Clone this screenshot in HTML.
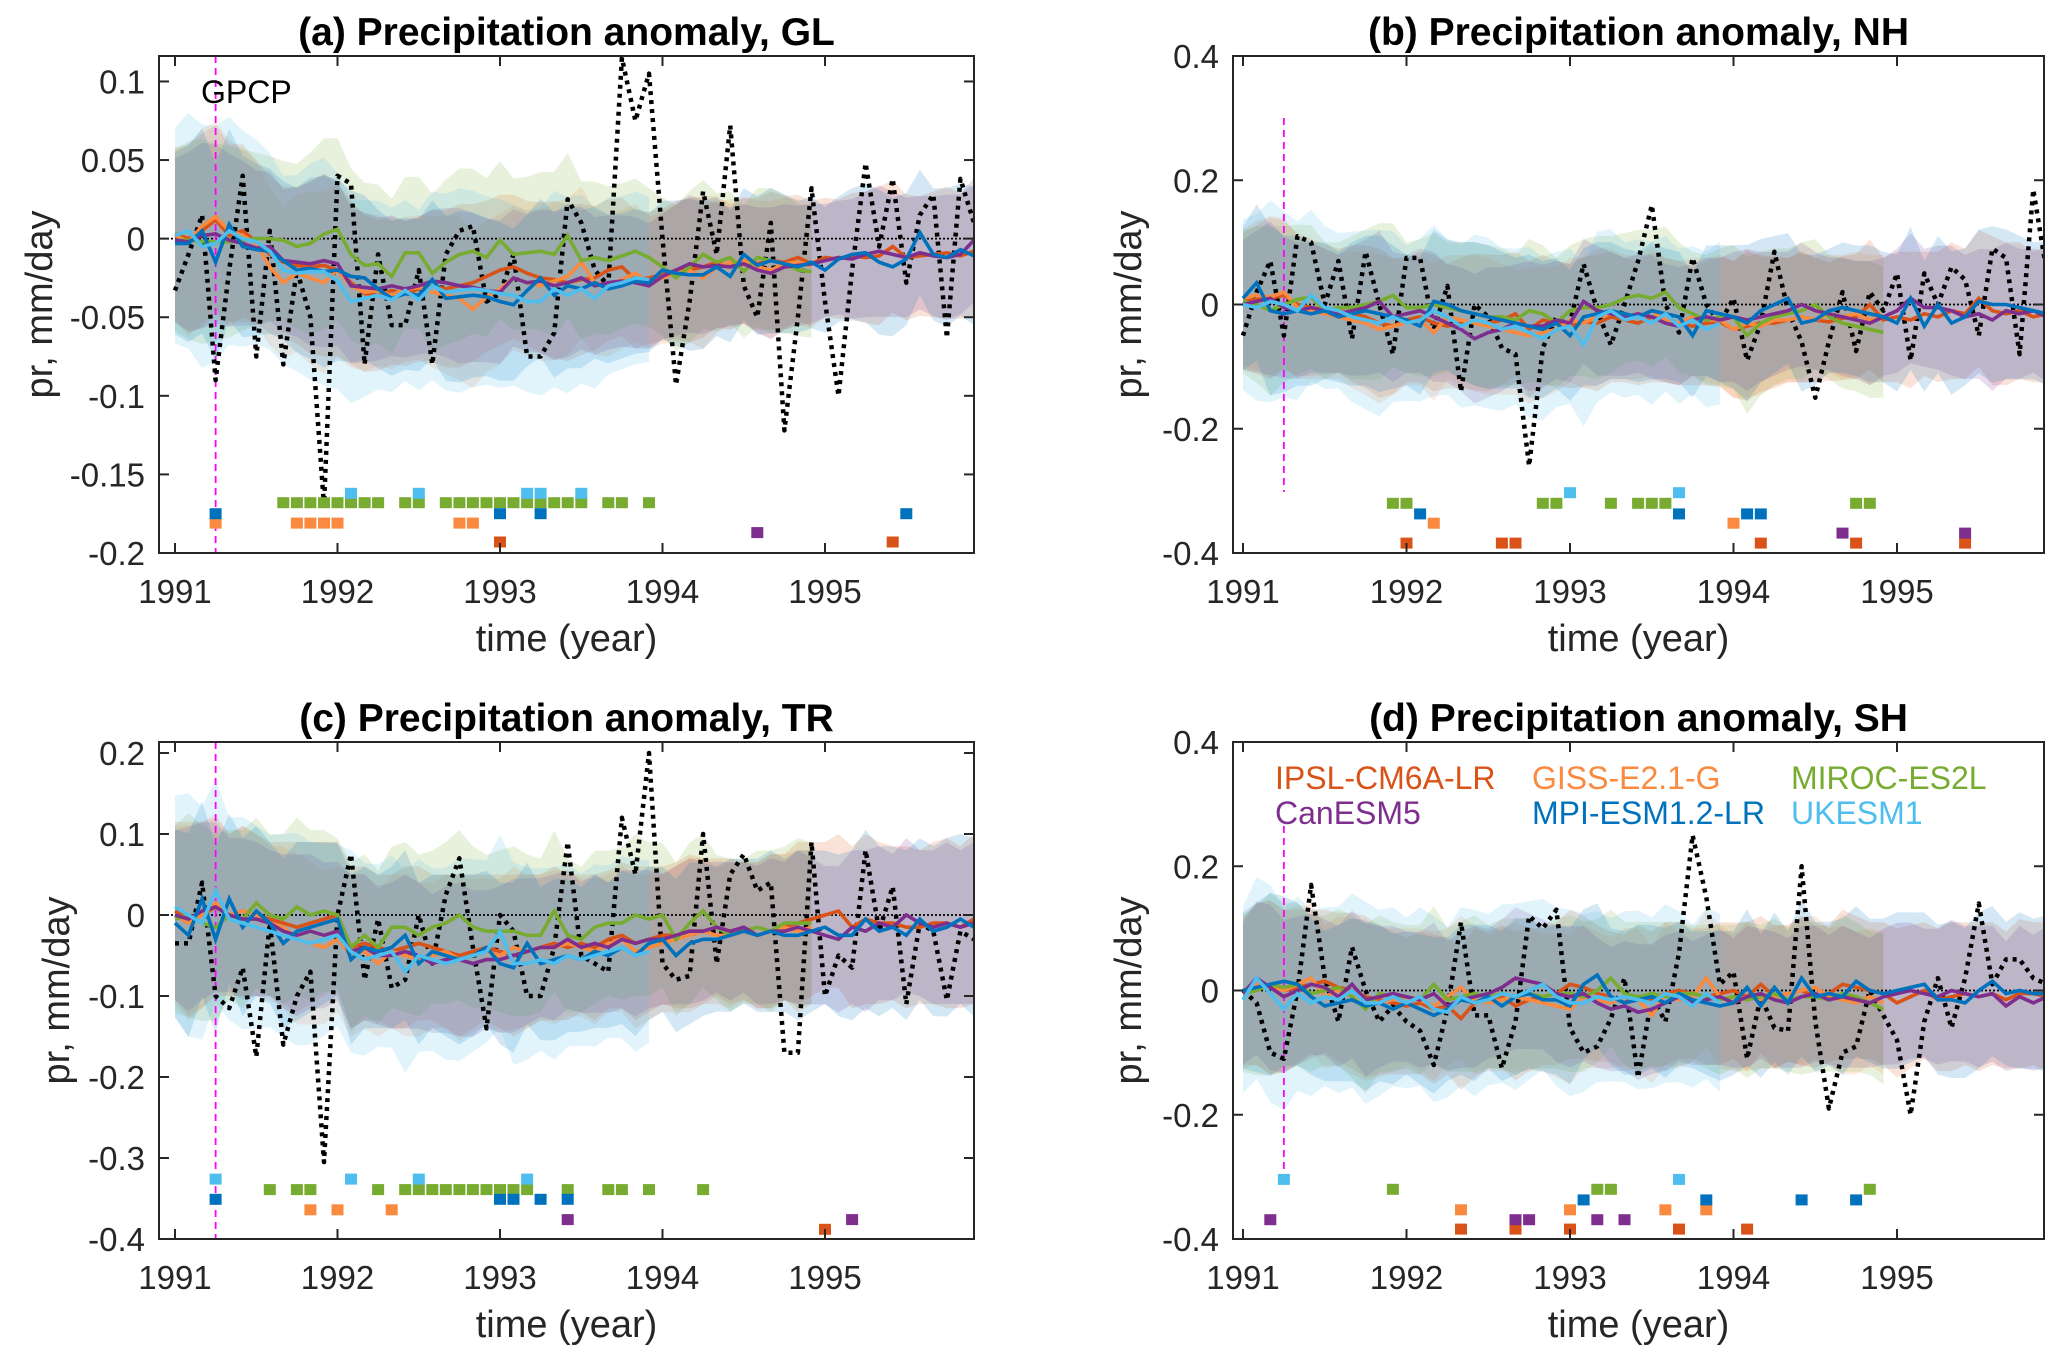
<!DOCTYPE html>
<html><head><meta charset="utf-8"><style>
html,body{margin:0;padding:0;background:#fff;}
svg{display:block;font-family:"Liberation Sans",Arial,sans-serif;}
</style></head><body>
<svg id="fig" width="2067" height="1364" viewBox="0 0 2067 1364" xmlns="http://www.w3.org/2000/svg"></svg>
<script>
// ---------- data (values in 1e-3 mm/day, monthly from Jan 1991) ----------
const xTickYears=[1991,1992,1993,1994,1995];
const modelNames=["IPSL-CM6A-LR","GISS-E2.1-G","MIROC-ES2L","CanESM5","MPI-ESM1.2-LR","UKESM1"];
const bandFactor=[1.0,1.0,1.05,0.95,1.05,1.25];
// GL
const glGPCP=[-33,-10,15,-90,-20,40,-75,5,-80,-20,-50,-170,40,35,-80,-10,-55,-55,-20,-80,-10,5,8,-40,-35,-10,-75,-75,-60,25,10,-20,-30,115,75,105,0,-93,-40,30,-10,72,-30,-50,10,-122,-50,32,-40,-100,-20,48,-5,38,-28,15,28,-63,38,10];
const glIPSL=[3,0,5,12,2,5,-2,-10,-15,-17,-18,-17,-20,-28,-35,-36,-33,-35,-32,-30,-32,-30,-28,-24,-20,-18,-22,-25,-26,-28,-26,-25,-20,-18,-26,-25,-23,-20,-20,-18,-15,-18,-14,-16,-14,-15,-12,-16,-12,-13,-11,-12,-11,-5,-12,-11,-10,-9,-11,-8];
const glGISS=[2,-2,8,14,5,2,-3,-18,-28,-22,-25,-28,-20,-30,-34,-33,-36,-32,-31,-34,-36,-38,-45,-37,-32,-25,-28,-30,-27,-24,-15,-28,-30,-26,-22,-28,-25,-22,-20,-25,-18,-15,-14,-18,-20,-16,-15,-17];
const glMIROC=[-1,-1,-2,-2,-2,-1,0,0,-1,-5,-3,3,6,-10,-17,-16,-24,-9,-9,-22,-15,-10,-8,-12,-1,-10,-9,-8,-10,2,-14,-12,-14,-11,-8,-12,-18,-25,-18,-10,-15,-12,-21,-12,-14,-16,-20,-21];
const glCanESM=[-1,-2,2,3,-1,-3,-6,-5,-14,-15,-16,-14,-16,-30,-31,-32,-30,-32,-30,-27,-28,-30,-31,-33,-34,-25,-28,-27,-30,-28,-25,-30,-28,-27,-28,-30,-24,-20,-16,-18,-17,-18,-16,-20,-22,-18,-17,-16,-14,-12,-13,-10,-8,-10,-12,-9,-11,-12,-10,-1];
const glMPI=[-3,-3,5,-15,9,-5,-7,-8,-14,-20,-19,-21,-20,-24,-25,-32,-38,-35,-36,-26,-38,-37,-36,-37,-40,-42,-33,-25,-36,-30,-32,-28,-32,-30,-27,-28,-20,-22,-23,-23,-18,-24,-10,-17,-14,-16,-18,-15,-20,-13,-10,-9,-15,-18,-13,4,-10,-12,-7,-11];
const glUKESM=[2,5,-5,-3,5,0,-2,-8,-20,-22,-21,-21,-27,-40,-38,-36,-39,-33,-39,-30,-34,-33,-32,-33,-35,-36,-40,-40,-32,-36,-32,-38,-30,-28,-25,-26];
const glSpread=[55,60,62,60,58,55,52,50,48,50,55,58,55,52,50,48,47,46,46,48,50,52,50,48,48,46,46,48,50,50,48,46,45,44,44,42,42,44,46,45,42,40,40,42,44,42,40,40,38,38,40,42,44,42,40,38,40,42,40,42];
// NH
const nhGPCP=[-50,20,70,-50,110,100,0,70,-55,85,0,-80,75,75,-40,30,-140,0,-20,-70,-80,-260,-70,-20,-30,65,-10,-65,0,70,160,0,-45,75,0,-30,10,-90,-30,85,-10,-60,-150,-60,20,-75,20,-10,50,-90,50,0,60,40,-50,90,75,-80,185,50];
const nhIPSL=[5,8,10,15,0,-5,-8,-10,-15,-20,-30,-35,-25,-20,-30,-35,-30,-28,-30,-25,-15,-40,-25,-30,-35,-28,-30,-20,-25,-30,-20,-25,-30,-35,-30,-28,-40,-35,-30,-30,-25,-20,-25,-28,-22,-20,0,-25,-20,-25,-15,-20,-10,-15,10,-10,-15,-10,-20,-15];
const nhGISS=[10,15,12,20,-5,-10,-15,-20,-25,-30,-40,-35,-30,-25,-45,-20,-25,-30,-35,-40,-45,-50,-45,-40,-25,-30,-20,-15,-20,-20,-10,-25,-30,-20,-25,-25,-40,-30,-35,-25,-25,-20,-25,-15,-20,-15,-25,-20];
const nhMIROC=[5,0,-10,0,8,12,-10,-5,-5,0,5,15,-5,-5,0,-5,-10,-15,-20,-20,-25,-10,-15,-30,-10,-5,-5,0,10,15,10,20,-5,-15,-25,-20,-20,-50,-30,-20,-15,-10,0,-20,-30,-35,-40,-45];
const nhCanESM=[0,5,10,-5,-10,-5,-10,-15,-10,-5,5,-20,-15,-10,-20,-30,-40,-55,-45,-40,-30,-35,-35,-25,-30,5,-10,-15,-20,-15,-20,-30,-35,-25,-20,-25,-20,-25,-20,-15,-10,0,-10,-15,-20,-25,-30,-20,-10,10,-5,-5,-10,-20,-15,-25,-10,-15,-10,-20];
const nhMPI=[10,35,-10,-15,-10,-15,-10,-20,-15,-10,-15,-20,-25,-35,5,0,-10,-15,-20,-25,-30,-35,-40,-30,-50,-20,-15,-10,-15,-20,-10,-15,-20,-50,-10,-15,-20,-30,-10,0,10,-30,-25,-10,-5,-10,-15,-20,-30,10,-35,0,-30,-20,5,0,0,-5,-10,-15];
const nhUKESM=[0,-5,5,0,-10,15,-5,-10,-20,-25,-30,-20,-30,-25,-10,-20,-35,-25,-30,-40,-35,-45,-55,-40,-35,-65,-20,-10,-25,-20,-30,-15,-35,-25,-40,-30];
const nhSpread=[110,120,130,120,115,110,105,100,110,115,120,110,100,105,110,100,105,110,110,105,100,110,105,100,100,105,110,105,100,100,105,100,100,95,100,105,110,120,110,105,100,105,100,95,100,100,105,100,105,110,100,105,110,105,110,120,115,110,105,110];
// TR
const trGPCP=[-35,-35,40,-100,-115,-65,-175,-10,-160,-100,-70,-305,0,75,-80,-5,-90,-80,0,-60,25,70,-40,-140,0,-20,-100,-100,-40,90,-50,-60,-70,120,50,200,-60,-80,-75,100,-60,50,75,30,40,-170,-170,90,-100,-50,-65,80,-20,35,-110,-10,-20,-105,-20,-30];
const trIPSL=[5,-5,0,10,0,5,0,-5,-10,-15,-10,-5,0,-40,-35,-40,-45,-40,-35,-40,-45,-50,-45,-40,-45,-50,-45,-40,-35,-40,-35,-40,-30,-25,-35,-30,-25,-25,-20,-20,-15,-20,-20,-25,-20,-15,-10,-5,0,5,-15,-5,-10,-10,-15,-15,-10,-10,-15,-5];
const trGISS=[0,-10,0,15,0,5,0,-10,-15,-30,-35,-40,-30,-50,-45,-60,-45,-50,-55,-50,-45,-55,-50,-45,-50,-40,-45,-40,-40,-35,-40,-45,-35,-30,-45,-40,-35,-30,-25,-20,-25,-25,-20,-25,-20,-15,-20,-15];
const trMIROC=[-5,0,-10,-15,0,-5,15,0,-5,10,0,5,0,-40,-25,-40,-15,-15,-25,-15,-10,0,-15,-20,-20,-20,-25,-25,5,-25,-30,-15,-10,-10,0,-5,0,-30,-10,5,-15,-25,-20,-15,-20,-10,-10,-10];
const trCanESM=[0,-5,5,10,0,-5,-5,-10,-20,-25,-20,-25,-20,-45,-40,-50,-50,-45,-50,-60,-55,-55,-60,-55,-55,-50,-45,-40,-40,-30,-40,-35,-40,-30,-35,-30,-30,-25,-20,-20,-15,-20,-15,-25,-20,-20,-15,-20,-25,-30,-15,-20,-10,-15,0,-10,-15,-10,-15,-10];
const trMPI=[-10,-25,20,-30,20,-15,5,-10,-35,-20,-15,-10,-5,-55,-40,-45,-40,-25,-60,-45,-50,-55,-50,-40,-60,-65,-35,-60,-55,-50,-55,-45,-50,-40,-50,-35,-30,-50,-35,-30,-30,-25,-20,-25,-20,-25,-25,-20,-15,-25,-25,-5,-20,-15,-25,-5,-20,-15,-5,-15];
const trUKESM=[10,0,-10,30,-5,-10,-15,-20,-25,-30,-35,-30,-25,-45,-55,-50,-45,-70,-50,-55,-60,-55,-50,-45,-20,-60,-60,-55,-60,-50,-55,-50,-45,-40,-50,-45];
const trSpread=[110,120,115,110,100,105,100,95,100,105,100,95,90,100,95,90,95,100,95,90,95,100,95,90,95,100,95,90,95,90,85,90,85,90,95,90,85,90,95,90,85,90,85,90,95,90,100,95,90,95,100,105,100,95,100,95,100,105,100,105];
// SH
const shGPCP=[0,-20,-100,-110,0,170,20,-50,70,0,-50,-25,-50,-65,-120,-30,110,-40,-40,-125,-50,120,100,130,-60,-100,-90,-45,20,-140,-10,-50,60,250,150,10,30,-110,-10,-60,-65,200,-50,-190,-100,-90,0,-40,-80,-200,-50,20,-60,20,140,10,50,50,20,10];
const shIPSL=[0,10,5,0,5,10,15,5,0,-10,-15,-20,-25,-20,-30,-25,-45,-20,-15,-10,-25,-15,-10,-5,10,5,-5,-10,-20,-10,-15,-5,0,-5,-10,-5,0,-10,10,-10,-5,0,-10,-5,10,5,0,-5,-20,-10,0,-15,-10,-5,-10,-5,-15,-5,-5,-10];
const shGISS=[-5,10,5,0,10,20,-10,0,-10,-15,-20,-15,-10,-15,-25,-10,5,-15,-20,-15,-10,-15,-20,-25,-30,-10,-15,-20,-10,-15,-40,-5,-15,-10,20,-10,-20,-10,-15,-10,-5,0,5,-10,-15,-20,-10,-20];
const shMIROC=[-5,0,10,5,10,-5,0,5,-10,-30,-5,-10,-10,-15,10,-15,-10,-5,-10,-5,-10,-5,-10,-5,-5,-10,0,20,-5,-10,-5,-10,-5,-5,-10,-15,-10,-15,-10,-5,-15,-10,-10,-15,-5,-10,-20,-30];
const shCanESM=[-5,20,5,-10,0,10,5,-10,10,-15,-10,-5,-10,-15,-5,-25,-15,-10,-5,5,20,15,10,-5,-10,-5,-20,-30,-25,-35,-30,-20,-10,-20,-15,-10,-20,-10,-5,-15,-20,-10,-5,-15,-10,-15,-20,-10,-5,0,-5,-10,0,-5,-10,-5,-25,-10,-20,-10];
const shMPI=[0,5,10,15,10,-10,-25,-20,-15,-25,-20,-30,-20,-30,-40,-30,-15,-20,-10,-25,-10,-5,-15,-15,-25,10,25,-10,-20,-15,-10,-20,-5,-15,-20,-25,-20,5,-25,5,-20,20,-10,-5,-10,15,0,-5,0,5,10,-15,-15,-20,0,15,-5,0,-5,-5];
const shUKESM=[-15,20,-5,-30,-5,-20,-10,-15,0,-20,-20,-10,-20,-10,-30,-35,-10,-20,-15,-5,-10,0,10,-10,-20,-20,-10,-15,-10,-15,-20,-5,-10,-25,-5,-20];
const shSpread=[120,130,140,130,125,120,115,120,125,130,120,115,110,115,120,110,115,120,110,115,120,115,110,115,120,115,110,105,110,115,110,115,110,105,110,115,110,120,110,115,110,120,115,110,120,115,110,115,120,115,110,115,120,115,120,115,110,120,115,120];
// significance markers (month indices)
const glMarkIPSL=[24,53], glMarkGISS=[3,9,10,11,12,21,22], glMarkMIROC=[8,9,10,11,12,13,14,15,17,18,20,21,22,23,24,25,26,27,28,29,30,32,33,35], glMarkCanESM=[43], glMarkMPI=[3,24,27,54], glMarkUKESM=[13,18,26,27,30];
const nhMarkIPSL=[12,19,20,38,45,53], nhMarkGISS=[14,36], nhMarkMIROC=[11,12,22,23,27,29,30,31,45,46], nhMarkCanESM=[44,53], nhMarkMPI=[13,32,37,38], nhMarkUKESM=[24,32];
const trMarkIPSL=[48], trMarkGISS=[10,12,16], trMarkMIROC=[7,9,10,15,17,18,19,20,21,22,23,24,25,26,29,32,33,35,39], trMarkCanESM=[29,50], trMarkMPI=[3,24,25,27,29], trMarkUKESM=[3,13,18,26];
const shMarkIPSL=[16,20,24,32,37], shMarkGISS=[16,24,31,34], shMarkMIROC=[11,26,27,46], shMarkCanESM=[2,20,21,26,28], shMarkMPI=[25,34,41,45], shMarkUKESM=[3,32];
// marker row levels (mm/day) for IPSL,GISS,MIROC,CanESM,MPI,UKESM
const glMarkLevel=[-0.193,-0.181,-0.168,-0.187,-0.175,-0.162];
const nhMarkLevel=[-0.384,-0.352,-0.320,-0.368,-0.337,-0.303];
const trMarkLevel=[-0.388,-0.364,-0.339,-0.376,-0.351,-0.326];
const shMarkLevel=[-0.384,-0.353,-0.320,-0.369,-0.337,-0.304];
const glYTicks=[0.1,0.05,0,-0.05,-0.1,-0.15,-0.2], glYLabels=["0.1","0.05","0","-0.05","-0.1","-0.15","-0.2"];
const nhYTicks=[0.4,0.2,0,-0.2,-0.4], nhYLabels=["0.4","0.2","0","-0.2","-0.4"];
const trYTicks=[0.2,0.1,0,-0.1,-0.2,-0.3,-0.4], trYLabels=["0.2","0.1","0","-0.1","-0.2","-0.3","-0.4"];
const shYTicks=[0.4,0.2,0,-0.2,-0.4], shYLabels=["0.4","0.2","0","-0.2","-0.4"];
const eruptionMonth=3;

// ---------- drawing ----------
const colors=["#D95319","#F98A3F","#77AC30","#7E2F8E","#0072BD","#4DBEEE"];
const NS="http://www.w3.org/2000/svg";
const svg=document.getElementById('fig');
function mk(tag,attrs,parent){const e=document.createElementNS(NS,tag);for(const k in attrs)e.setAttribute(k,attrs[k]);(parent||svg).appendChild(e);return e;}

const panels=[
 {id:'gl',title:'(a) Precipitation anomaly, GL',L:159,R:974,T:56,B:553,ymin:-0.2,ymax:0.1162,x0:175,x1:825,
  gpcp:glGPCP,models:[glIPSL,glGISS,glMIROC,glCanESM,glMPI,glUKESM],spread:glSpread,
  marks:[glMarkIPSL,glMarkGISS,glMarkMIROC,glMarkCanESM,glMarkMPI,glMarkUKESM],level:glMarkLevel,
  yt:glYTicks,yl:glYLabels,ylabX:52,magT:56,magB:553,gpcpLabel:true},
 {id:'nh',title:'(b) Precipitation anomaly, NH',L:1233,R:2044,T:56,B:553,ymin:-0.4,ymax:0.4,x0:1243,x1:1897,
  gpcp:nhGPCP,models:[nhIPSL,nhGISS,nhMIROC,nhCanESM,nhMPI,nhUKESM],spread:nhSpread,
  marks:[nhMarkIPSL,nhMarkGISS,nhMarkMIROC,nhMarkCanESM,nhMarkMPI,nhMarkUKESM],level:nhMarkLevel,
  yt:nhYTicks,yl:nhYLabels,ylabX:1141,magT:118,magB:492},
 {id:'tr',title:'(c) Precipitation anomaly, TR',L:159,R:974,T:742,B:1239,ymin:-0.4,ymax:0.2136,x0:175,x1:825,
  gpcp:trGPCP,models:[trIPSL,trGISS,trMIROC,trCanESM,trMPI,trUKESM],spread:trSpread,
  marks:[trMarkIPSL,trMarkGISS,trMarkMIROC,trMarkCanESM,trMarkMPI,trMarkUKESM],level:trMarkLevel,
  yt:trYTicks,yl:trYLabels,ylabX:69,magT:742,magB:1239},
 {id:'sh',title:'(d) Precipitation anomaly, SH',L:1233,R:2044,T:742,B:1239,ymin:-0.4,ymax:0.4,x0:1243,x1:1897,
  gpcp:shGPCP,models:[shIPSL,shGISS,shMIROC,shCanESM,shMPI,shUKESM],spread:shSpread,
  marks:[shMarkIPSL,shMarkGISS,shMarkMIROC,shMarkCanESM,shMarkMPI,shMarkUKESM],level:shMarkLevel,
  yt:shYTicks,yl:shYLabels,ylabX:1141,magT:826,magB:1178,legend:true}
];

panels.forEach(p=>{
  const g=mk('g',{});
  
  
  const xs=m=>p.x0+(p.x1-p.x0)*(m/48);
  const xy=y=>p.x0+(p.x1-p.x0)*((y-1991)/4);
  const ys=v=>p.B-(v-p.ymin)/(p.ymax-p.ymin)*(p.B-p.T);
  const clip=mk('clipPath',{id:'clip-'+p.id},g);
  mk('rect',{x:p.L,y:p.T,width:p.R-p.L,height:p.B-p.T},clip);
  const plot=mk('g',{'clip-path':'url(#clip-'+p.id+')'},g);
  
  
  p.models.forEach((s,mi)=>{
    let up=[],lo=[];
    s.forEach((v,i)=>{const h=p.spread[i]*bandFactor[mi];up.push(xs(i).toFixed(1)+','+ys((v+h)/1000).toFixed(1));lo.unshift(xs(i).toFixed(1)+','+ys((v-h)/1000).toFixed(1));});
    const b=mk('polygon',{points:up.concat(lo).join(' '),fill:colors[mi],'fill-opacity':0.17,stroke:'none'},plot);
    
    
  });
  const z=mk('line',{x1:p.L,x2:p.R,y1:ys(0),y2:ys(0),stroke:'#000','stroke-width':1.8,'stroke-dasharray':'2 2'},plot);
  
  
  const mg=mk('line',{x1:xs(eruptionMonth),x2:xs(eruptionMonth),y1:p.magT,y2:p.magB,stroke:'#FF00FF','stroke-width':1.8,'stroke-dasharray':'7 5'},plot);
  
  
  const gp=mk('polyline',{points:p.gpcp.map((v,i)=>xs(i).toFixed(1)+','+ys(v/1000).toFixed(1)).join(' '),fill:'none',stroke:'#000','stroke-width':4.5,'stroke-dasharray':'4 5','stroke-linejoin':'round'},plot);
  
  
  p.models.forEach((s,mi)=>{
    const l=mk('polyline',{points:s.map((v,i)=>xs(i).toFixed(1)+','+ys(v/1000).toFixed(1)).join(' '),fill:'none',stroke:colors[mi],'stroke-width':3.6,'stroke-linejoin':'miter'},plot);
    
    
  });
  p.marks.forEach((arr,mi)=>{
    arr.forEach(m=>{
      const r=mk('rect',{x:(xs(m)-6).toFixed(1),y:(ys(p.level[mi])-5.5).toFixed(1),width:12,height:11,fill:colors[mi]},plot);
      
      
    });
  });
  const box=mk('rect',{x:p.L,y:p.T,width:p.R-p.L,height:p.B-p.T,fill:'none',stroke:'#262626','stroke-width':2},g);
  
  
  xTickYears.forEach(yr=>{
    const x=xy(yr);
    mk('line',{x1:x,x2:x,y1:p.B,y2:p.B-10,stroke:'#262626','stroke-width':2},g);
    mk('line',{x1:x,x2:x,y1:p.T,y2:p.T+10,stroke:'#262626','stroke-width':2},g);
    const t=mk('text',{x:x,y:p.B+50,'font-size':33,'text-anchor':'middle',fill:'#262626'},g);
    t.textContent=yr;
    
    
  });
  p.yt.forEach((v,i)=>{
    const y=ys(v);
    mk('line',{x1:p.L,x2:p.L+10,y1:y,y2:y,stroke:'#262626','stroke-width':2},g);
    mk('line',{x1:p.R,x2:p.R-10,y1:y,y2:y,stroke:'#262626','stroke-width':2},g);
    const t=mk('text',{x:p.L-14,y:y+12,'font-size':33,'text-anchor':'end',fill:'#262626'},g);
    t.textContent=p.yl[i];
    
    
  });
  const xt=mk('text',{x:(p.L+p.R)/2,y:p.B+98,'font-size':38,'text-anchor':'middle',fill:'#262626'},g);
  xt.textContent='time (year)';
  
  
  const cy=(p.T+p.B)/2;
  const yt=mk('text',{x:p.ylabX,y:cy,'font-size':38,'text-anchor':'middle',fill:'#262626',transform:'rotate(-90 '+p.ylabX+' '+cy+')'},g);
  yt.textContent='pr, mm/day';
  
  
  const tt=mk('text',{x:(p.L+p.R)/2,y:p.T-11,'font-size':39,'font-weight':'bold','text-anchor':'middle',fill:'#000'},g);
  tt.textContent=p.title;
  
  
  if(p.gpcpLabel){
    const gl=mk('text',{x:201,y:103,'font-size':32,fill:'#000'},g);
    gl.textContent='GPCP';
    
    
  }
  if(p.legend){
    const lx=[1275,1532,1791], ly=[789,824];
    const order=[[0,1,2],[3,4,5]];
    order.forEach((row,ri)=>row.forEach((mi,ci)=>{
      const t=mk('text',{x:lx[ci],y:ly[ri],'font-size':32,fill:colors[mi]},g);
      t.textContent=modelNames[mi];
      
      
    }));
  }
});
</script>
</body></html>
